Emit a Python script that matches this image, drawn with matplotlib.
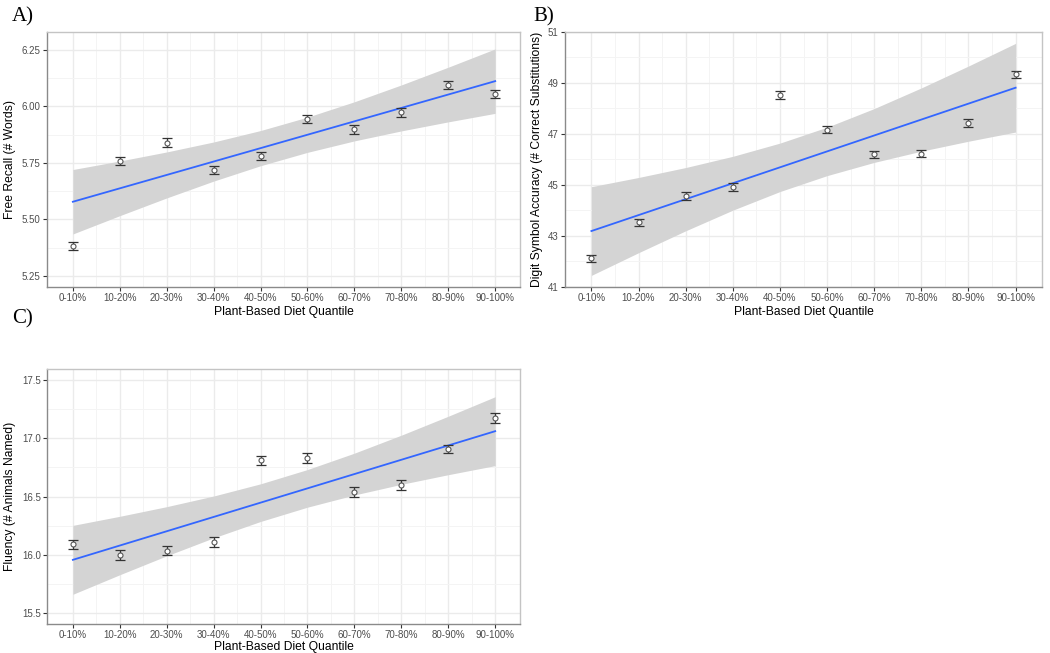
import matplotlib
matplotlib.use("Agg")
import matplotlib.pyplot as plt
import numpy as np
from matplotlib.ticker import FixedLocator, FormatStrFormatter

plt.rcParams['font.family'] = ['Liberation Sans', 'DejaVu Sans']

quantiles = ["0-10%", "10-20%", "20-30%", "30-40%", "40-50%",
             "50-60%", "60-70%", "70-80%", "80-90%", "90-100%"]

# group means
recall_mean = [5.38, 5.76, 5.84, 5.72, 5.78, 5.945, 5.90, 5.975, 6.095, 6.055]
recall_se = [0.018, 0.018, 0.02, 0.018, 0.018, 0.018, 0.02, 0.02, 0.018, 0.018]
recall_ticks = [5.25, 5.50, 5.75, 6.00, 6.25]

digit_mean = [42.12, 43.54, 44.57, 44.93, 48.52, 47.16, 46.20, 46.23, 47.43, 49.35]
digit_se = [0.14, 0.14, 0.15, 0.15, 0.15, 0.14, 0.14, 0.14, 0.15, 0.14]
digit_ticks = [41, 43, 45, 47, 49, 51]

fluency_mean = [16.09, 16.00, 16.037, 16.11, 16.81, 16.83, 16.54, 16.60, 16.906, 17.174]
fluency_se = [0.04, 0.04, 0.04, 0.04, 0.04, 0.04, 0.04, 0.04, 0.035, 0.04]
fluency_ticks = [15.5, 16.0, 16.5, 17.0, 17.5]

T975_DF8 = 2.306  # t quantile for the lm ribbon (n = 10)


def smooth_lm(x, y):
    # linear fit with 95% confidence ribbon, as geom_smooth(method="lm")
    x = np.asarray(x, float)
    y = np.asarray(y, float)
    b, a = np.polyfit(x, y, 1)
    fit = a + b * x
    s = np.sqrt(np.sum((y - fit) ** 2) / (len(x) - 2))
    se = s * np.sqrt(1 / len(x) + (x - x.mean()) ** 2 / np.sum((x - x.mean()) ** 2))
    return fit, fit - T975_DF8 * se, fit + T975_DF8 * se


def draw_panel(ax, means, ses, ylabel, ylim, ticks, fmt, xlim, ylab_x, xlab_y=-0.074):
    x = np.arange(len(quantiles))
    fit, lo, hi = smooth_lm(x, means)
    ax.fill_between(x, lo, hi, color='#d4d4d4', lw=0, zorder=2)
    ax.plot(x, fit, color='#3366FF', lw=1.3, zorder=4)
    ax.errorbar(x, means, yerr=ses, fmt='none', ecolor='#333333', elinewidth=0.9,
                capsize=3.6, capthick=0.9, zorder=5)
    ax.plot(x, means, 'o', ms=3.6, mfc='white', mec='#555555', mew=0.8, zorder=6)

    ax.set_xlim(*xlim)
    ax.set_ylim(*ylim)
    ax.set_xticks(x)
    ax.set_xticklabels(quantiles)
    ax.xaxis.set_minor_locator(FixedLocator(x[:-1] + 0.5))
    ax.set_yticks(ticks)
    step = ticks[1] - ticks[0]
    ax.yaxis.set_minor_locator(FixedLocator(np.array(ticks[:-1]) + step / 2))
    ax.yaxis.set_major_formatter(FormatStrFormatter(fmt))

    ax.grid(which='major', color='#ebebeb', lw=1.0, zorder=0)
    ax.grid(which='minor', color='#f4f4f4', lw=0.7, zorder=0)
    ax.set_axisbelow(True)

    for side in ['top', 'right']:
        ax.spines[side].set_color('#c4c4c4')
    for side in ['left', 'bottom']:
        ax.spines[side].set_color('#8a8a8a')
    for sp in ax.spines.values():
        sp.set_linewidth(1.0)

    ax.tick_params(which='major', length=3, width=0.8, color='#333333',
                   labelsize=7.0, labelcolor='#4d4d4d', pad=1.5)
    ax.tick_params(which='minor', length=0)

    ax.set_xlabel("Plant-Based Diet Quantile", fontsize=8.7)
    ax.set_ylabel(ylabel, fontsize=8.7)
    ax.xaxis.set_label_coords(0.5, xlab_y)
    ax.yaxis.set_label_coords(ylab_x, 0.5)


fig = plt.figure(figsize=(10.5, 6.53), dpi=100)

axA = fig.add_axes([0.0448, 0.5605, 0.4505, 0.3905])
axB = fig.add_axes([0.5381, 0.5605, 0.4543, 0.3905])
axC = fig.add_axes([0.0448, 0.0444, 0.4505, 0.3910])

draw_panel(axA, recall_mean, recall_se, "Free Recall (# Words)",
           (5.20, 6.33), recall_ticks, '%.2f', (-0.55, 9.53), -0.066)
draw_panel(axB, digit_mean, digit_se, "Digit Symbol Accuracy (# Correct Substitutions)",
           (41, 51), digit_ticks, '%d', (-0.56, 9.56), -0.046)
draw_panel(axC, fluency_mean, fluency_se, "Fluency (# Animals Named)",
           (15.408, 17.597), fluency_ticks, '%.1f', (-0.55, 9.53), -0.066, -0.066)

serif = ['Liberation Serif', 'DejaVu Serif']
fig.text(12 / 1050, 1 - 7 / 653, "A)", fontsize=15, family=serif, va='top', ha='left')
fig.text(533 / 1050, 1 - 7 / 653, "B)", fontsize=15, family=serif, va='top', ha='left')
fig.text(12 / 1050, 1 - 309 / 653, "C)", fontsize=15, family=serif, va='top', ha='left')

fig.savefig("out.png", dpi=100)
